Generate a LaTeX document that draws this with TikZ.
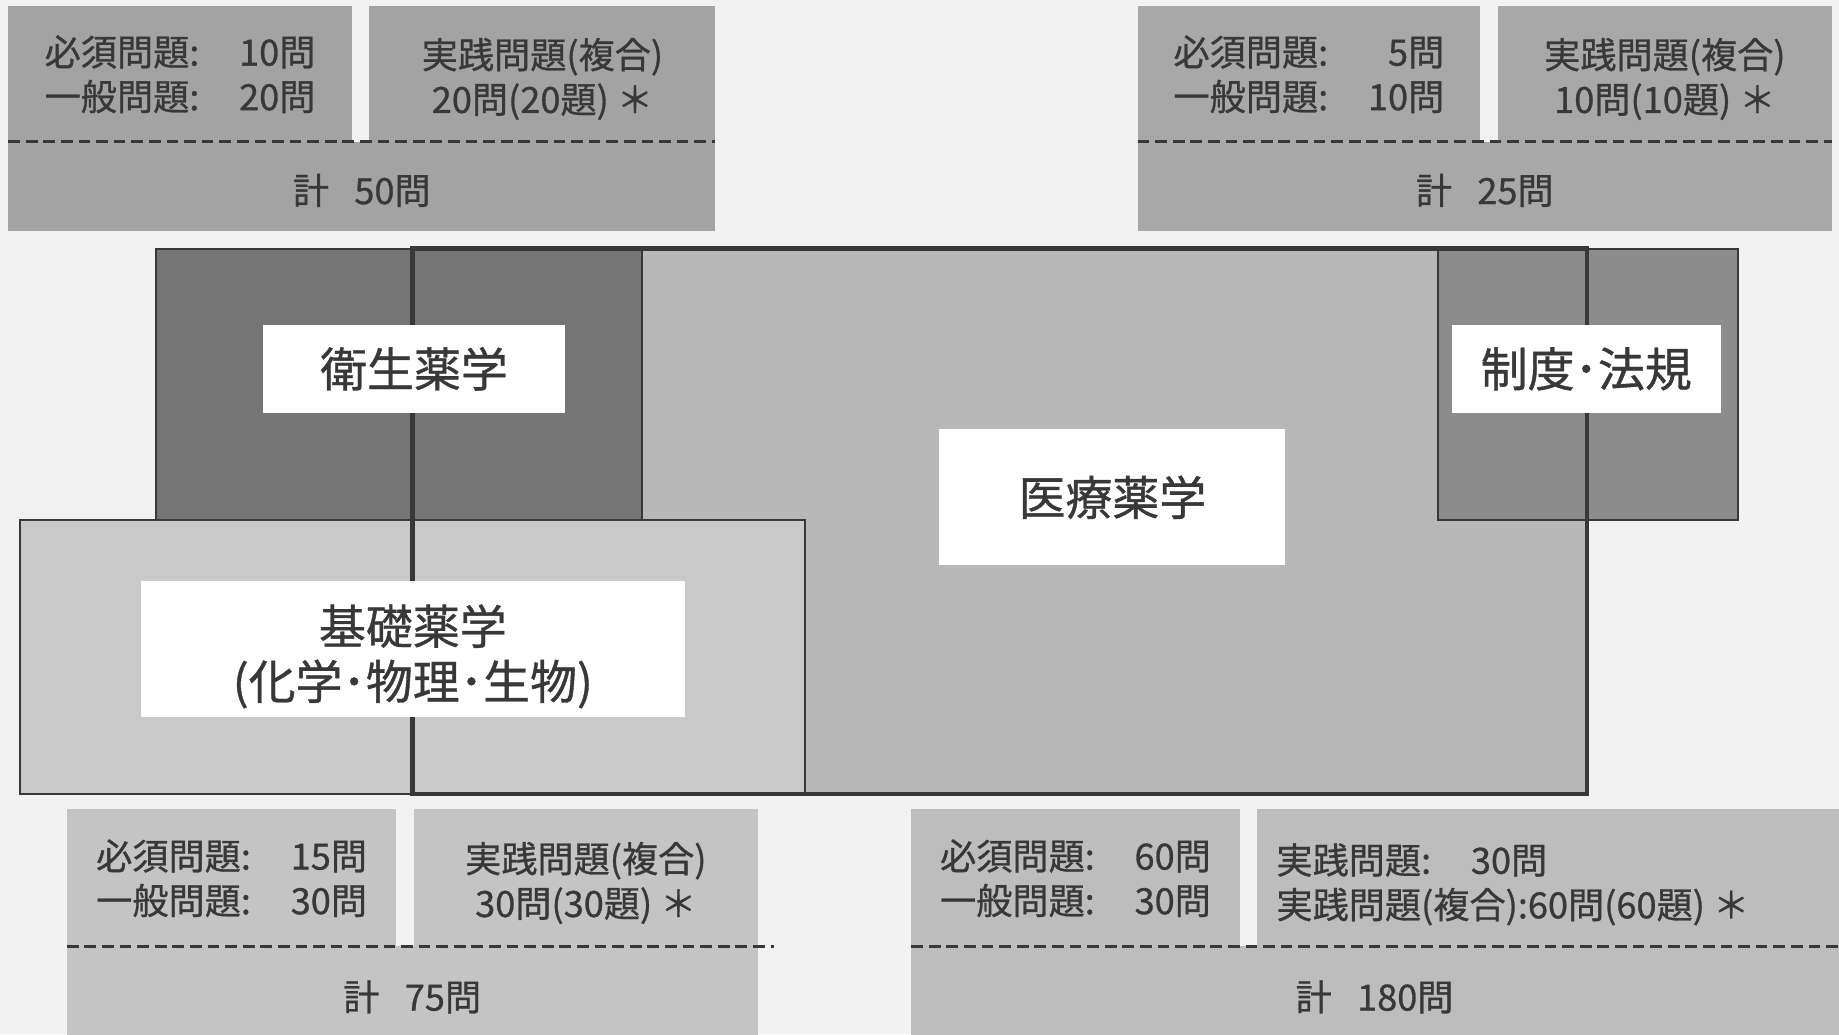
\documentclass[tikz,border=0pt]{standalone}
\usepackage{fontspec}
\setmainfont[FakeBold=0.8]{Noto Sans CJK JP}
\usepackage{tikz}
\usetikzlibrary{fit}
\definecolor{paper}{gray}{0.95}
\definecolor{ink}{gray}{0.22}
\definecolor{edge}{gray}{0.22}
\definecolor{topl}{gray}{0.64}
\definecolor{topr}{gray}{0.66}
\definecolor{botl}{gray}{0.77}
\definecolor{botr}{gray}{0.74}
\definecolor{eisei}{gray}{0.46}
\definecolor{seido}{gray}{0.55}
\definecolor{iryo}{gray}{0.72}
\definecolor{kiso}{gray}{0.79}
\newcommand{\qfont}{\fontsize{18.5}{22.8}\selectfont}
\newcommand{\tagfont}{\fontsize{24}{28.2}\selectfont}
\newcommand{\req}[2]{\begin{tabular}{@{}l@{\hspace{1.1em}}r@{}}必須問題: & #1問\\一般問題: & #2問\end{tabular}}

\begin{document}
\begin{tikzpicture}[x=0.6pt,y=-0.6pt,
		box/.style={rectangle,inner sep=0pt,outer sep=0pt},
		txt/.style={inner sep=0pt,text=ink,font=\qfont,align=center},
		twoline/.style={txt,yshift=-2.6pt},
		area/.style={rectangle,inner sep=0pt,outer sep=0pt,draw=edge,line width=1pt},
		tag/.style={rectangle,inner sep=0pt,outer sep=0pt,fill=white},
		tagtxt/.style={inner sep=0pt,text=ink,font=\tagfont,align=center},
		dashline/.style={draw=ink,line width=1.6pt,dash pattern=on 6pt off 3pt}]
		\useasboundingbox[fill=paper] (0,0) rectangle (1568,882);
		
		\node[box,fill=topl,fit={(7,5) (300,121)}]     (hreq)  {};
		\node[box,fill=topl,fit={(315,5) (610,121)}]   (hprac) {};
		\node[box,fill=topl,fit={(7,121) (610,197)}]   (hsum)  {};
		\draw[dashline] (hsum.north west) -- (hsum.north east);
		\node[twoline] (hreqt)  at (hreq)  {\req{10}{20}};
		\node[twoline] (hpract) at (hprac) {実践問題(複合)\\20問(20題) ＊};
		\node[txt] (hsumt)  at ([yshift=-2pt]hsum.center) {計\hspace{.7em}50問};
		
		\node[box,fill=topr,fit={(970,5) (1262,121)}]  (lreq)  {};
		\node[box,fill=topr,fit={(1277,5) (1562,121)}] (lprac) {};
		\node[box,fill=topr,fit={(970,121) (1562,197)}] (lsum) {};
		\draw[dashline] (lsum.north west) -- (lsum.north east);
		\node[twoline] (lreqt)  at (lreq)  {\req{5}{10}};
		\node[twoline] (lpract) at (lprac) {実践問題(複合)\\10問(10題) ＊};
		\node[txt] (lsumt)  at ([yshift=-2pt]lsum.center) {計\hspace{.7em}25問};
		
		\node[area,draw=none,fill=iryo,fit={(352,212) (1353,677)}] (iryo) {};
		\node[area,fill=eisei,fit={(133,212) (547,443)}]  (eisei) {};
		\node[area,fill=seido,fit={(1226,212) (1482,443)}] (seido) {};
		\node[area,fill=kiso,fit={(17,443) (686,677)}]    (kiso)  {};
		\draw[edge,line width=2.4pt] (iryo.north west) rectangle (iryo.south east);
		
		\node[tag,fit={(224,277) (482,352)}]   (eiseitag) {};
		\node[tag,fit={(120,495) (584,611)}]   (kisotag)  {};
		\node[tag,fit={(801,366) (1096,482)}]  (iryotag)  {};
		\node[tag,fit={(1238,277) (1467,352)}] (seidotag) {};
		\node[tagtxt] at (eiseitag) {衛生薬学};
		\node[tagtxt] at ([yshift=-4pt]kisotag.center) {基礎薬学\\(化学･物理･生物)};
		\node[tagtxt] at (iryotag)  {医療薬学};
		\node[tagtxt] at (seidotag) {制度･法規};
		
		\node[box,fill=botl,fit={(57,690) (338,807)}]   (kreq)  {};
		\node[box,fill=botl,fit={(353,690) (646,807)}]  (kprac) {};
		\node[box,fill=botl,fit={(57,807) (646,893)}]   (ksum)  {};
		\draw[dashline] (ksum.north west) -- ([xshift=8.4pt]ksum.north east);
		\node[twoline] (kreqt)  at (kreq)  {\req{15}{30}};
		\node[twoline] (kpract) at (kprac) {実践問題(複合)\\30問(30題) ＊};
		\node[txt] (ksumt)  at (ksum)  {計\hspace{.7em}75問};
		
		\node[box,fill=botr,fit={(777,690) (1057,807)}]  (mreq)  {};
		\node[box,fill=botr,fit={(1072,690) (1575,807)}] (mprac) {};
		\node[box,fill=botr,fit={(777,807) (1575,893)}]  (msum)  {};
		\draw[dashline] (msum.north west) -- (msum.north east);
		\node[twoline] (mreqt) at (mreq) {\req{60}{30}};
		\node[txt,anchor=west,align=left] (mpract) at (1088,754) {実践問題:\hspace{1.1em}30問\\実践問題(複合):60問(60題) ＊};
		\node[txt] (msumt) at ([xshift=-2.4pt]msum.center) {計\hspace{.7em}180問};
\end{tikzpicture}
\end{document}
